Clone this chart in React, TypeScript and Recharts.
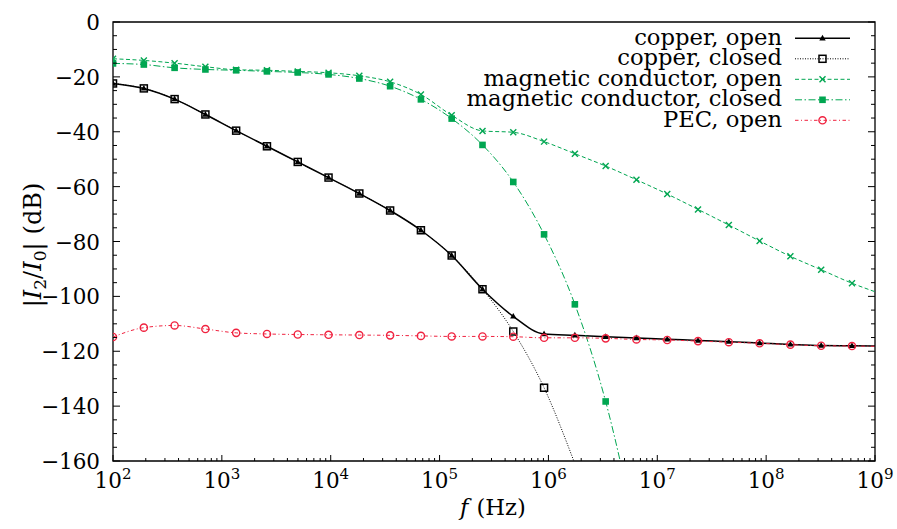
import React from 'react';
import { LineChart, Line, XAxis, YAxis, Legend, ReferenceArea } from 'recharts';

const FONT = "'DejaVu Serif', serif";
const GREEN = '#00a651';
const RED = '#f0223f';

// frequencies (Hz) of the sampled points that carry markers
const freq = [
  100, 192, 368, 706, 1353, 2596, 4979, 9550, 18316, 35130, 67380, 129240,
  247880, 475430, 911870, 1.749e6, 3.355e6, 6.434e6, 1.234e7, 2.367e7,
  4.54e7, 8.707e7, 1.67e8, 3.203e8, 6.144e8,
];

// |I2/I0| in dB
const copperOpen = [
  -22.4, -24.2, -28.1, -33.7, -39.6, -45.3, -51.0, -56.7, -62.5, -68.7, -75.9,
  -85.1, -97.4, -107.3, -113.7, -114.2, -114.7, -115.2, -115.6, -116.1, -116.5,
  -117.0, -117.5, -117.9, -118.0,
];
const copperOpenTail = [[1e9, -118.1]];

const copperClosed = [
  -22.4, -24.2, -28.1, -33.7, -39.6, -45.3, -51.0, -56.7, -62.5, -68.7, -75.9,
  -85.1, -97.4, -112.8, -133.3,
];
const copperClosedTail = [[1.749e6, -161]];

const magOpen = [
  -13.4, -14.0, -15.0, -16.3, -17.4, -17.6, -18.0, -18.5, -19.6, -21.8, -26.4,
  -34.0, -39.7, -40.2, -43.6, -48.0, -52.5, -57.5, -62.7, -68.3, -74.0, -79.8,
  -85.4, -90.3, -95.2,
];
const magOpenTail = [[1e9, -98.3]];

const magClosed = [
  -15.1, -15.5, -16.7, -17.3, -17.6, -18.0, -18.4, -19.1, -20.6, -23.4, -28.2,
  -35.2, -44.8, -58.3, -77.4, -102.9, -138.3,
];
const magClosedTail = [[6.434e6, -187]];

const pecOpen = [
  -114.8, -111.4, -110.6, -111.9, -113.3, -113.7, -113.9, -114.0, -114.1,
  -114.2, -114.4, -114.6, -114.6, -114.7, -115.1, -115.1, -115.3, -115.7,
  -115.9, -116.3, -116.7, -117.1, -117.6, -118.0, -118.1,
];
const pecOpenTail = [[1e9, -118.2]];

const yMajor = [0, -20, -40, -60, -80, -100, -120, -140, -160];
const decades = [2, 3, 4, 5, 6, 7, 8, 9];

type Pt = { f: number; v: number; mark: boolean };

const build = (vals: number[], tail: number[][]): Pt[] => [
  ...vals.map((v, i) => ({ f: freq[i], v, mark: true })),
  ...tail.map(([f, v]) => ({ f, v, mark: false })),
];

// minor y ticks every 5 dB between the labelled ones
const yTicks: number[] = [];
yMajor.forEach((v) => {
  yTicks.push(v);
  if (v > -160) yTicks.push(v - 5, v - 10, v - 15);
});

const xTicks: number[] = [];
decades.forEach((d) => {
  xTicks.push(10 ** d);
  if (d < 9) for (let m = 2; m <= 9; m++) xTicks.push(m * 10 ** d);
});

type Kind = 'triangle' | 'square' | 'cross' | 'filled' | 'circle';

const series = [
  { name: 'copper, open', data: build(copperOpen, copperOpenTail), color: '#000', width: 1.5, dash: undefined, kind: 'triangle' as Kind },
  { name: 'copper, closed', data: build(copperClosed, copperClosedTail), color: '#000', width: 1, dash: '1 1.5', kind: 'square' as Kind },
  { name: 'magnetic conductor, open', data: build(magOpen, magOpenTail), color: GREEN, width: 1, dash: '4 2.5', kind: 'cross' as Kind },
  { name: 'magnetic conductor, closed', data: build(magClosed, magClosedTail), color: GREEN, width: 1, dash: '7 2.5 1.5 2.5', kind: 'filled' as Kind },
  { name: 'PEC, open', data: build(pecOpen, pecOpenTail), color: RED, width: 1, dash: '3.5 2.5 1 2.5', kind: 'circle' as Kind },
];

const labelStyle = { fontFamily: FONT, fontSize: 22.7, fill: '#000' };
const tickStyle = { fontFamily: FONT, fontSize: 21.5, fill: '#000' };

const Marker = ({ kind, x, y, color }: { kind: Kind; x: number; y: number; color: string }) => {
  switch (kind) {
    case 'triangle':
      return <polygon points={`${x},${y - 3.5} ${x - 3.2},${y + 2.2} ${x + 3.2},${y + 2.2}`} fill={color} />;
    case 'square':
      return <rect x={x - 3.5} y={y - 3.5} width={7} height={7} fill="none" stroke={color} strokeWidth={1.5} />;
    case 'cross':
      return (
        <g stroke={color} strokeWidth={1.4}>
          <line x1={x - 3} y1={y - 3} x2={x + 3} y2={y + 3} />
          <line x1={x - 3} y1={y + 3} x2={x + 3} y2={y - 3} />
        </g>
      );
    case 'filled':
      return <rect x={x - 3.3} y={y - 3.3} width={6.6} height={6.6} fill={color} />;
    default:
      return <circle cx={x} cy={y} r={3.6} fill="none" stroke={color} strokeWidth={1.4} />;
  }
};

const makeDot = (kind: Kind, color: string) => (p: any) => {
  const { cx, cy, payload, index } = p;
  if (!payload || !payload.mark || cx == null || cy == null) return <g key={index} />;
  return <Marker key={index} kind={kind} x={cx} y={cy} color={color} />;
};

const fmtY = (v: number) => (v < 0 ? `\u2212${-v}` : `${v}`);

const LeftTick = ({ x, y, payload }: any) => {
  const major = payload.value % 20 === 0;
  return (
    <g>
      <line x1={x} x2={x + (major ? 7 : 4)} y1={y} y2={y} stroke="#000" />
      {major && (
        <text x={x - 13} y={y + 8} textAnchor="end" style={tickStyle}>
          {fmtY(payload.value)}
        </text>
      )}
    </g>
  );
};

const RightTick = ({ x, y, payload }: any) => {
  const major = payload.value % 20 === 0;
  return <line x1={x} x2={x - (major ? 7 : 4)} y1={y} y2={y} stroke="#000" />;
};

const BottomTick = ({ x, y, payload }: any) => {
  const e = Math.log10(payload.value);
  const major = Math.abs(e - Math.round(e)) < 1e-6;
  return (
    <g>
      <line x1={x} x2={x} y1={y} y2={y - (major ? 6 : 3)} stroke="#000" />
      {major && (
        <text x={x} y={y + 27} textAnchor="middle" style={tickStyle}>
          10
          <tspan dy={-9} style={{ fontSize: 15 }}>
            {Math.round(e)}
          </tspan>
        </text>
      )}
    </g>
  );
};

const YLabel = () => (
  <text x={41} y={245} transform="rotate(-90, 41, 245)" textAnchor="middle" style={{ ...labelStyle, fontSize: 24 }}>
    |<tspan fontStyle="italic">I</tspan>
    <tspan dy={5} style={{ fontSize: 17 }}>2</tspan>
    <tspan dy={-5}>/</tspan>
    <tspan fontStyle="italic">I</tspan>
    <tspan dy={5} style={{ fontSize: 17 }}>0</tspan>
    <tspan dy={-5}>|</tspan>
    <tspan dx={8}>(dB)</tspan>
  </text>
);

const XLabel = () => (
  <text x={493} y={515} textAnchor="middle" style={labelStyle}>
    <tspan fontStyle="italic">f</tspan>
    <tspan dx={8}>(Hz)</tspan>
  </text>
);

const LegendBox = () => (
  <svg width={440} height={110} style={{ display: 'block' }}>
    {series.map((s, i) => {
      const y = 13.3 + i * 20.5;
      return (
        <g key={s.name}>
          <text x={342} y={y + 6.5} textAnchor="end" style={labelStyle}>
            {s.name}
          </text>
          <line x1={355} x2={410} y1={y} y2={y} stroke={s.color} strokeWidth={s.width} strokeDasharray={s.dash} />
          <Marker kind={s.kind} x={382.5} y={y} color={s.color} />
        </g>
      );
    })}
  </svg>
);

export default function App() {
  return (
    <div style={{ position: 'absolute', left: 0, top: 0, background: '#fff' }}>
      <LineChart width={897} height={529} margin={{ top: 22, right: 0, bottom: 0, left: 0 }}>
        <XAxis
          dataKey="f"
          type="number"
          scale="log"
          domain={[100, 1e9]}
          allowDataOverflow
          ticks={xTicks}
          interval={0}
          height={68}
          tickSize={0}
          tickMargin={0}
          axisLine={false}
          tick={<BottomTick />}
          label={<XLabel />}
        />
        <YAxis
          type="number"
          domain={[-160, 0]}
          allowDataOverflow
          ticks={yTicks}
          interval={0}
          width={113}
          tickSize={0}
          tickMargin={0}
          axisLine={false}
          tick={<LeftTick />}
          label={<YLabel />}
        />
        <YAxis
          yAxisId="r"
          orientation="right"
          type="number"
          domain={[-160, 0]}
          allowDataOverflow
          ticks={yTicks}
          interval={0}
          width={22}
          tickSize={0}
          tickMargin={0}
          axisLine={false}
          tick={<RightTick />}
        />
        <ReferenceArea x1={100} x2={1e9} y1={-160} y2={0} fill="none" stroke="#000" strokeWidth={1.3} ifOverflow="visible" />
        {series.map((s) => (
          <Line
            key={s.name}
            data={s.data}
            dataKey="v"
            name={s.name}
            type="monotone"
            stroke={s.color}
            strokeWidth={s.width}
            strokeDasharray={s.dash}
            dot={makeDot(s.kind, s.color)}
            activeDot={false}
            isAnimationActive={false}
          />
        ))}
        <Legend
          layout="vertical"
          align="center"
          verticalAlign="middle"
          wrapperStyle={{ left: 440, top: 25, width: 440, height: 110 }}
          content={() => <LegendBox />}
        />
      </LineChart>
    </div>
  );
}
